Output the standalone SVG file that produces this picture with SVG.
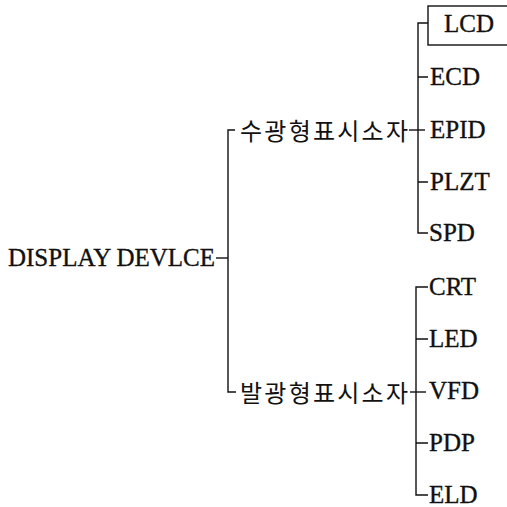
<svg xmlns="http://www.w3.org/2000/svg" width="507" height="507" viewBox="0 0 507 507">
<style>
.t{font-family:"Liberation Serif","Times New Roman",serif;font-size:25px;fill:#111;stroke:#111;stroke-width:0.35}
.k{font-family:"Noto Sans CJK KR","Noto Sans",sans-serif;font-size:24px;fill:#111;dominant-baseline:central}
.c{fill:none;stroke:#111;stroke-width:1.4}
</style>
<rect width="507" height="507" fill="#fff"/>
<g id="connectors" class="c">
<path d="M216,258 H228"/>
<path d="M235,130 H228 V392 H236"/>
<path d="M409,130 H425"/>
<path d="M428,23 H418 V233 H428"/>
<path d="M418,77 H428 M418,182 H428"/>
<path d="M410,392 H426"/>
<path d="M428,287 H416 V495 H428"/>
<path d="M416,339 H428 M416,443 H428"/>
</g>
<g id="root"><text class="t" x="8" y="266" textLength="207" lengthAdjust="spacingAndGlyphs">DISPLAY DEVLCE</text></g>
<g id="passive"><text class="k" x="240" y="129" textLength="168">수광형표시소자</text></g>
<g id="emissive"><text class="k" x="240" y="391" textLength="168">발광형표시소자</text></g>
<g id="lcd"><rect class="c" x="428" y="6" width="82" height="39"/><text class="t" x="444" y="32">LCD</text></g>
<g id="ecd"><text class="t" x="430" y="85">ECD</text></g>
<g id="epid"><text class="t" x="430" y="138">EPID</text></g>
<g id="plzt"><text class="t" x="430" y="190">PLZT</text></g>
<g id="spd"><text class="t" x="429" y="241">SPD</text></g>
<g id="crt"><text class="t" x="429" y="295">CRT</text></g>
<g id="led"><text class="t" x="429" y="347">LED</text></g>
<g id="vfd"><text class="t" x="429" y="399">VFD</text></g>
<g id="pdp"><text class="t" x="429" y="451">PDP</text></g>
<g id="eld"><text class="t" x="429" y="503">ELD</text></g>
</svg>
